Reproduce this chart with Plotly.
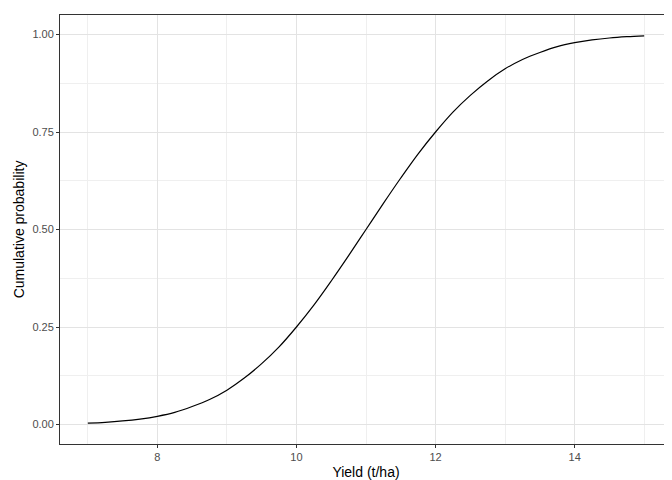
import plotly.graph_objects as go

yield_t = [7, 7.25, 7.5, 7.75, 8, 8.25, 8.5, 8.75, 9, 9.25, 9.5, 9.75, 10, 10.25, 10.5, 10.75, 11,
           11.25, 11.5, 11.75, 12, 12.25, 12.5, 12.75, 13, 13.25, 13.5, 13.75, 14, 14.25, 14.5, 14.75, 15]
cum_prob = [0.0035, 0.0057, 0.0091, 0.014, 0.021, 0.031, 0.046, 0.064, 0.088, 0.119, 0.156, 0.199, 0.250,
            0.306, 0.368, 0.433, 0.5, 0.567, 0.632, 0.694, 0.750, 0.801, 0.844, 0.881, 0.912, 0.936,
            0.954, 0.969, 0.979, 0.986, 0.991, 0.9943, 0.9965]
x_ticks = [8, 10, 12, 14]
y_ticks = [0, 0.25, 0.5, 0.75, 1]
y_labels = ["0.00", "0.25", "0.50", "0.75", "1.00"]

fig = go.Figure(go.Scatter(x=yield_t, y=cum_prob, mode="lines", line=dict(color="black", width=1.2, shape="spline")))

axis_common = dict(showline=True, linecolor="#333333", linewidth=1, mirror=True, ticks="outside",
                   ticklen=3, tickcolor="#333333", tickfont=dict(size=11, color="#4d4d4d"),
                   gridcolor="#e3e3e3", gridwidth=1.1, zeroline=False, automargin=False,
                   title_font=dict(size=14, color="black"))
fig.update_xaxes(range=[6.6, 15.4], tickvals=x_ticks, title_text="Yield (t/ha)",
                 minor=dict(tickvals=[7, 9, 11, 13, 15], showgrid=True, gridcolor="#efefef", gridwidth=0.6, ticks=""),
                 title_standoff=4, **axis_common)
fig.update_yaxes(range=[-0.05, 1.05], tickvals=y_ticks, ticktext=y_labels, title_text="Cumulative probability",
                 minor=dict(tickvals=[0.125, 0.375, 0.625, 0.875], showgrid=True, gridcolor="#efefef", gridwidth=0.6, ticks=""),
                 title_standoff=4, **axis_common)
fig.update_layout(width=672, height=480, margin=dict(l=52, r=8, t=7, b=44, autoexpand=False),
                  plot_bgcolor="white", paper_bgcolor="white", showlegend=False,
                  font=dict(family="Liberation Sans, Arial, sans-serif"))
fig.write_html("out.html")
